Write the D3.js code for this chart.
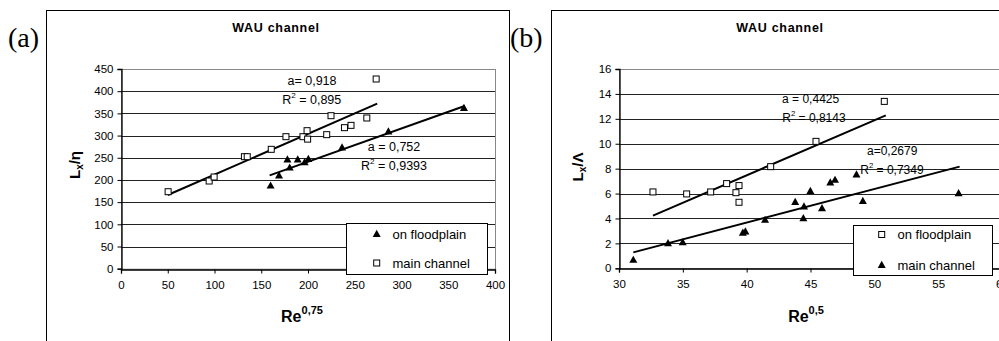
<!DOCTYPE html>
<html><head><meta charset="utf-8">
<script src="https://cdn.jsdelivr.net/npm/d3@7"></script>
<style>
html,body{margin:0;padding:0;background:#fff;overflow:hidden;}
svg{display:block;font-family:"Liberation Sans",Arial,sans-serif;}
</style></head>
<body><svg id="c" width="999" height="341"></svg>
<script>
// ---------- Panel (a) data ----------
const aXTicks = [0,50,100,150,200,250,300,350,400];
const aYTicks = [0,50,100,150,200,250,300,350,400,450];
const aMainX  = [50.4,94.3,99.6,132,135,160.7,176.4,194.6,199,199.6,220,224.6,239,246,262.9,272.9];
const aMainY  = [173.5,197.6,206.6,252.4,252.4,269,297.5,297.5,311,292,302,344.8,317.8,323,339.6,427.5];
const aFloodX = [160,169,178,180.4,189,196.4,200.4,236.4,286,366.8];
const aFloodY = [187,210,246,227.6,246,239.6,247,272.7,308.8,362];
const aMainTrendX = [50,274];
const aMainTrendY = [166,372];
const aFloodTrendX = [159,367.5];
const aFloodTrendY = [210.4,366.6];
const aLabels = ["a= 0,918","0,895","a = 0,752","0,9393"];

// ---------- Panel (b) data ----------
const bXTicks = [30,35,40,45,50,55,60];
const bYTicks = [0,2,4,6,8,10,12,14,16];
const bFloodX = [32.66,35.3,37.18,38.43,39.16,39.4,39.4,41.88,45.43,50.78];
const bFloodY = [6.13,5.97,6.13,6.8,6.07,6.64,5.3,8.16,10.19,13.4];
const bMainX  = [31.12,33.84,34.99,39.7,39.9,41.44,43.8,44.44,44.49,44.99,45.9,46.55,46.92,48.6,49.1,56.6];
const bMainY  = [0.67,2.0,2.09,2.85,2.95,3.88,5.32,4.01,4.95,6.2,4.82,6.88,7.09,7.52,5.4,6.02];
const bFloodTrendX = [32.66,50.9];
const bFloodTrendY = [4.23,12.28];
const bMainTrendX = [31.12,56.68];
const bMainTrendY = [1.28,8.16];
const bLabels = ["a = 0,4425","0,8143","a=0,2679","0,7349"];

const svg = d3.select("#c");
const SANS = '"Liberation Sans",Arial,sans-serif';

function tri(s){ const h=s*0.9; return `M0,${-h*0.6}L${s/2},${h*0.4}L${-s/2},${h*0.4}Z`; }

function panel(o){
  const g = svg.append("g");
  // outer frame
  g.append("rect").attr("x",o.frame[0]+0.5).attr("y",o.frame[1]+0.5)
    .attr("width",o.frame[2]).attr("height",o.frame[3])
    .attr("fill","none").attr("stroke","#000").attr("stroke-width",1);
  // panel letter
  g.append("text").attr("x",o.letterPos[0]).attr("y",o.letterPos[1])
    .attr("font-family",'"Liberation Serif","Times New Roman",serif')
    .attr("font-size",28).attr("fill","#000").text(o.letter);
  // title
  g.append("text").attr("x",o.titlePos[0]).attr("y",o.titlePos[1])
    .attr("text-anchor","middle").attr("font-weight","bold").attr("font-size",12.5)
    .attr("letter-spacing",0.7).attr("fill","#000").text("WAU channel");

  const x = d3.scaleLinear().domain(o.xDom).range(o.xRange);
  const y = d3.scaleLinear().domain(o.yDom).range(o.yRange);

  // plot-area border (grey)
  g.append("rect").attr("x",Math.round(o.xRange[0])+0.5).attr("y",Math.round(o.yRange[1])+0.5)
    .attr("width",o.xRange[1]-o.xRange[0]).attr("height",o.yRange[0]-o.yRange[1])
    .attr("fill","none").attr("stroke","#888").attr("stroke-width",1);
  // gridlines
  g.append("g").selectAll("line").data(o.yTicks.slice(1,-1)).join("line")
    .attr("x1",o.xRange[0]).attr("x2",o.xRange[1])
    .attr("y1",d=>Math.round(y(d))+0.5).attr("y2",d=>Math.round(y(d))+0.5)
    .attr("stroke","#222").attr("stroke-width",1);

  // axes
  const ya = d3.axisLeft(y).tickValues(o.yTicks).tickSize(4).tickPadding(4).tickFormat(d=>d);
  const yg = g.append("g").attr("transform",`translate(${Math.round(o.xRange[0])+0.5},0)`).call(ya);
  const xa = d3.axisBottom(x).tickValues(o.xTicks).tickSize(4).tickPadding(7).tickFormat(d=>d);
  const xg = g.append("g").attr("transform",`translate(0,${Math.round(o.yRange[0])+0.5})`).call(xa);
  [yg,xg].forEach(a=>{
    a.select(".domain").attr("stroke","#000").attr("stroke-width",1.3);
    a.selectAll(".tick line").attr("stroke","#000");
    a.selectAll("text").attr("font-family",SANS).attr("font-size",11.5).attr("fill","#000");
  });

  // trend lines
  o.trends.forEach(t=>{
    g.append("line").attr("x1",x(t.x[0])).attr("y1",y(t.y[0]))
      .attr("x2",x(t.x[1])).attr("y2",y(t.y[1]))
      .attr("stroke","#000").attr("stroke-width",2);
  });

  // squares
  const sq = o.squares;
  g.append("g").selectAll("rect").data(sq.x.map((v,i)=>[v,sq.y[i]])).join("rect")
    .attr("x",d=>x(d[0])-3).attr("y",d=>y(d[1])-3).attr("width",6).attr("height",6)
    .attr("fill","#fff").attr("stroke","#000").attr("stroke-width",1);
  // triangles
  const tr = o.triangles;
  g.append("g").selectAll("path").data(tr.x.map((v,i)=>[v,tr.y[i]])).join("path")
    .attr("transform",d=>`translate(${x(d[0])},${y(d[1])})`)
    .attr("d",tri(8)).attr("fill","#000");

  // annotations
  o.annots.forEach(an=>{
    const t = g.append("text").attr("x",x(an.x)).attr("y",y(an.y))
      .attr("text-anchor","middle").attr("dominant-baseline","central")
      .attr("font-size",an.fs).attr("fill","#000");
    if(an.r2){
      t.append("tspan").text("R");
      t.append("tspan").attr("font-size",an.fs*0.65).attr("dy",-5).text("2");
      t.append("tspan").attr("dy",5).text(an.sep + an.text);
    } else t.text(an.text);
  });

  // legend
  const L = o.legend;
  g.append("rect").attr("x",L.box[0]+0.5).attr("y",L.box[1]+0.5).attr("width",L.box[2]).attr("height",L.box[3])
    .attr("fill","#fff").attr("stroke","#000").attr("stroke-width",1);
  L.items.forEach((it,i)=>{
    const cy = L.rows[i];
    if(it.shape==="tri"){
      g.append("path").attr("transform",`translate(${L.mx},${cy})`).attr("d",tri(8)).attr("fill","#000");
    } else {
      g.append("rect").attr("x",L.mx-3).attr("y",cy-3).attr("width",6).attr("height",6)
        .attr("fill","#fff").attr("stroke","#000");
    }
    g.append("text").attr("x",L.tx).attr("y",cy).attr("dominant-baseline","central")
      .attr("font-size",13).attr("fill","#000").text(it.label);
  });

  // axis titles
  const xt = g.append("text").attr("x",o.xTitlePos[0]).attr("y",o.xTitlePos[1])
    .attr("text-anchor","middle").attr("font-weight","bold").attr("font-size",16).attr("fill","#000");
  xt.append("tspan").text("Re");
  xt.append("tspan").attr("font-size",11).attr("dy",-8).text(o.xExp);

  const yt = g.append("text").attr("transform",`translate(${o.yTitlePos[0]},${o.yTitlePos[1]}) rotate(-90)`)
    .attr("text-anchor","middle").attr("font-weight","bold").attr("font-size",15).attr("fill","#000");
  yt.append("tspan").text("L");
  yt.append("tspan").attr("font-size",10).attr("dy",3).text("x");
  yt.append("tspan").attr("dy",-3).text("/" + o.ySym);
}

panel({
  frame:[46,10,463,400], letter:"(a)", letterPos:[8,47], titlePos:[276,32],
  xDom:[0,400], xRange:[121,495], yDom:[0,450], yRange:[268.7,69],
  xTicks:aXTicks, yTicks:aYTicks,
  squares:{x:aMainX,y:aMainY}, triangles:{x:aFloodX,y:aFloodY},
  trends:[{x:aMainTrendX,y:aMainTrendY},{x:aFloodTrendX,y:aFloodTrendY}],
  annots:[
    {x:204.3,y:423,text:aLabels[0],fs:12.5},
    {x:204,y:380.8,text:aLabels[1],r2:true,sep:" = ",fs:12.5},
    {x:292,y:274,text:aLabels[2],fs:12.5},
    {x:292,y:232,text:aLabels[3],r2:true,sep:" = ",fs:12.5}
  ],
  legend:{box:[346,223,141,51], mx:376.7, tx:392.5, rows:[234,263],
    items:[{shape:"tri",label:"on floodplain"},{shape:"sq",label:"main channel"}]},
  xTitlePos:[302,322], xExp:"0,75", yTitlePos:[80,165], ySym:"η"
});

panel({
  frame:[551,10,460,400], letter:"(b)", letterPos:[510,47], titlePos:[780,32],
  xDom:[30,60], xRange:[619,1002], yDom:[0,16], yRange:[268.3,69],
  xTicks:bXTicks, yTicks:bYTicks,
  squares:{x:bFloodX,y:bFloodY}, triangles:{x:bMainX,y:bMainY},
  trends:[{x:bFloodTrendX,y:bFloodTrendY},{x:bMainTrendX,y:bMainTrendY}],
  annots:[
    {x:45.01,y:13.59,text:bLabels[0],fs:12},
    {x:45.27,y:12.04,text:bLabels[1],r2:true,sep:" = ",fs:12},
    {x:51.4,y:9.44,text:bLabels[2],fs:12},
    {x:51.38,y:7.89,text:bLabels[3],r2:true,sep:" = ",fs:12}
  ],
  legend:{box:[853,225,139,50], mx:881.7, tx:897.5, rows:[234.5,265],
    items:[{shape:"sq",label:"on floodplain"},{shape:"tri",label:"main channel"}]},
  xTitlePos:[806,322], xExp:"0,5", yTitlePos:[583,167], ySym:"Λ"
});
</script></body></html>
